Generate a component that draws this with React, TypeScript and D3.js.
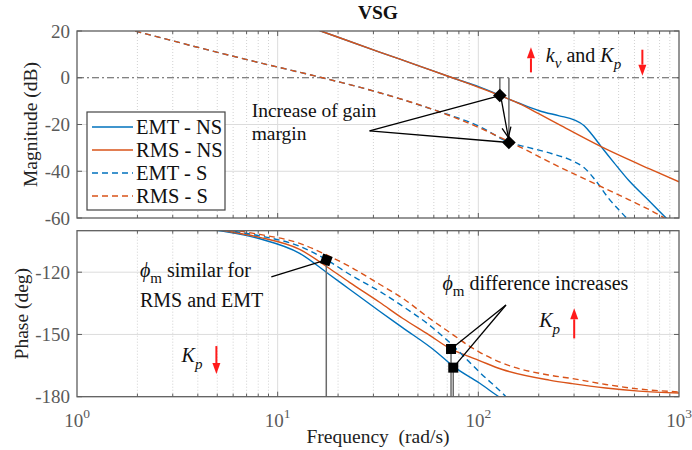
import React from 'react';
import * as d3 from 'd3';

// ---------- layout ----------
const W = 692, H = 450;
const PL = 77, PR = 679;
const MAG_TOP = 31, MAG_BOT = 218;
const PH_TOP = 230.7, PH_BOT = 396.7;
const FONT = '"Liberation Serif", "Times New Roman", serif';
const BLUE = '#0072BD';
const ORANGE = '#D95319';

// ---------- data: magnitude (dB) ----------
const magFreqEmtNs = [10, 16.4, 20.35, 32.2, 50.9, 74.2, 101, 128, 160, 201, 253, 300, 337, 369, 409, 475, 564, 709, 871, 1000];
const magEmtNs = [27, 20, 17.1, 11.0, 5.0, 0, -3.9, -7.5, -10.9, -14.1, -16.3, -18.0, -20.5, -24.4, -29.4, -36.4, -44.1, -52.6, -60.3, -64.6];

const magFreqRmsNs = [10, 16.4, 20.35, 32.2, 50.9, 74.2, 101, 128, 160, 201, 253, 409, 709, 1000];
const magRmsNs = [27, 20, 17.1, 11.0, 5.0, 0, -4.2, -7.6, -11.1, -15.5, -20.1, -29.5, -38.9, -44.5];

const magFreqEmtS = [1, 1.94, 4.09, 8.14, 16.7, 32.2, 61.8, 101.2, 143, 179, 233, 294, 337, 378, 448, 551, 600];
const magEmtS = [26, 20, 12.8, 6.4, 0, -6.4, -14.1, -20.8, -27.7, -29.9, -32.5, -35.5, -38.5, -43.2, -51.8, -60.3, -64];

const magFreqRmsS = [1, 1.94, 4.09, 8.14, 16.7, 32.2, 61.8, 101.2, 146, 253, 400, 564, 842, 1000];
const magRmsS = [26, 20, 12.8, 6.4, 0, -6.4, -14.1, -21.4, -27.8, -38.1, -46.2, -52.2, -59.9, -64];

// ---------- data: phase (deg) ----------
const phFreqEmtNs = [3.25, 5.27, 8.14, 12.87, 17.74, 22.8, 32.2, 41.9, 61.6, 74.2, 101.2, 122.9, 142.6];
const phEmtNs = [-97.4, -100.2, -103.9, -110.9, -120.5, -128.2, -138.8, -146.7, -158.3, -165.0, -173.4, -179.2, -183.5];

const phFreqRmsNs = [3.445, 5.58, 8.14, 12.87, 17.74, 22.8, 32.2, 41.9, 57.0, 71.7, 90.2, 101.2, 131.7, 225.5, 293.6, 431.9, 632.4, 1000];
const phRmsNs = [-97.4, -100.2, -103.2, -109.0, -117.6, -124.9, -134.5, -142.2, -150.3, -156.6, -160.7, -162.6, -166.9, -172.0, -173.7, -175.8, -177.3, -178.2];

const phFreqEmtS = [3.865, 5.97, 8.14, 12.87, 17.74, 22.8, 32.2, 40.5, 57.0, 74.2, 90.2, 101.2, 137.3, 150];
const phEmtS = [-97.4, -100.2, -102.5, -107.5, -114.3, -121.0, -129.2, -135.4, -145.5, -155.1, -163.3, -168.1, -180, -184];

const phFreqRmsS = [4.09, 6.47, 8.14, 12.87, 17.74, 22.8, 32.2, 41.9, 57.0, 74.2, 90.2, 101.2, 131.7, 225.5, 293.6, 431.9, 632.4, 1000];
const phRmsS = [-97.4, -100.2, -101.8, -106.1, -111.9, -117.2, -125.8, -132.5, -142.2, -149.9, -155.6, -158.5, -163.8, -169.6, -171.25, -174.1, -176.3, -177.7];

// ---------- margin markers ----------
const gmMarkerFreq = [128, 142];
const gmMarkerDb = [-7.6, -27.7];
const pmMarkerFreq = [17.47, 73.1, 75];
const pmMarkerDeg = [-114.1, -157.0, -166.0];

// ---------- ticks & labels ----------
const xTickValues = [1, 10, 100, 1000];
const xTickExp = ['0', '1', '2', '3'];
const magTicks = [20, 0, -20, -40, -60];
const phaseTicks = [-120, -150, -180];
const legendLabels = ['EMT - NS', 'RMS - NS', 'EMT - S', 'RMS - S'];
const legendColors = [BLUE, ORANGE, BLUE, ORANGE];
const legendDashed = [false, false, true, true];

type Pt = [number, number];
const zip = (a: number[], b: number[]): Pt[] => a.map((v, i) => [v, b[i]] as Pt);

export default function App() {
  const x = d3.scaleLog().domain([1, 1000]).range([PL, PR]);
  const yM = d3.scaleLinear().domain([-60, 20]).range([MAG_BOT, MAG_TOP]);
  const yP = d3.scaleLinear().domain([-180, -100]).range([PH_BOT, PH_TOP]);

  const lineM = d3.line<Pt>().x(d => x(d[0])).y(d => yM(d[1])).curve(d3.curveMonotoneX);
  const lineP = d3.line<Pt>().x(d => x(d[0])).y(d => yP(d[1])).curve(d3.curveMonotoneX);

  const minorX: number[] = [];
  [1, 10, 100].forEach(dec => { for (let k = 2; k <= 9; k++) minorX.push(dec * k); });

  const magSeries = [
    { d: zip(magFreqEmtNs, magEmtNs), c: BLUE, dash: false },
    { d: zip(magFreqRmsNs, magRmsNs), c: ORANGE, dash: false },
    { d: zip(magFreqEmtS, magEmtS), c: BLUE, dash: true },
    { d: zip(magFreqRmsS, magRmsS), c: ORANGE, dash: true },
  ];
  const phSeries = [
    { d: zip(phFreqEmtNs, phEmtNs), c: BLUE, dash: false },
    { d: zip(phFreqRmsNs, phRmsNs), c: ORANGE, dash: false },
    { d: zip(phFreqEmtS, phEmtS), c: BLUE, dash: true },
    { d: zip(phFreqRmsS, phRmsS), c: ORANGE, dash: true },
  ];

  const grid = (top: number, bot: number, y: (v: number) => number, gridYs: number[], key: string) => (
    <g key={key}>
      {minorX.map(f => (
        <line key={'mg' + f} x1={x(f)} x2={x(f)} y1={top} y2={bot} stroke="#c6c6c6" strokeWidth={0.8} strokeDasharray="1,2" />
      ))}
      {[10, 100].map(f => (
        <line key={'Mg' + f} x1={x(f)} x2={x(f)} y1={top} y2={bot} stroke="#dcdcdc" strokeWidth={1} />
      ))}
      {gridYs.map(v => (
        <line key={'gy' + v} x1={PL} x2={PR} y1={y(v)} y2={y(v)} stroke="#dcdcdc" strokeWidth={1} />
      ))}
    </g>
  );

  const axesBox = (top: number, bot: number, yTicks: number[], y: (v: number) => number, key: string) => (
    <g key={key}>
      {minorX.map(f => (
        <g key={'mt' + f}>
          <line x1={x(f)} x2={x(f)} y1={bot} y2={bot - 3} stroke="#5e5e5e" strokeWidth={1} />
          <line x1={x(f)} x2={x(f)} y1={top} y2={top + 3} stroke="#5e5e5e" strokeWidth={1} />
        </g>
      ))}
      {[10, 100].map(f => (
        <g key={'Mt' + f}>
          <line x1={x(f)} x2={x(f)} y1={bot} y2={bot - 5} stroke="#5e5e5e" strokeWidth={1} />
          <line x1={x(f)} x2={x(f)} y1={top} y2={top + 5} stroke="#5e5e5e" strokeWidth={1} />
        </g>
      ))}
      {yTicks.map(v => (
        <g key={'yt' + v}>
          <line x1={PL} x2={PL + 5} y1={y(v)} y2={y(v)} stroke="#5e5e5e" strokeWidth={1} />
          <line x1={PR} x2={PR - 5} y1={y(v)} y2={y(v)} stroke="#5e5e5e" strokeWidth={1} />
          <text x={PL - 7} y={y(v)} dy="0.35em" textAnchor="end" fontSize={19} fill="#5a5a5a" fontFamily={FONT}>{String(v)}</text>
        </g>
      ))}
      <rect x={PL} y={top} width={PR - PL} height={bot - top} fill="none" stroke="#5e5e5e" strokeWidth={1.3} />
    </g>
  );

  const redArrow = (px: number, y1: number, y2: number, key: string) => {
    const dir = y2 < y1 ? -1 : 1;
    const head = 11;
    return (
      <g key={key}>
        <line x1={px} x2={px} y1={y1} y2={y2 - dir * head} stroke="#ff1a1a" strokeWidth={2} />
        <path d={`M${px},${y2} L${px - 4},${y2 - dir * head} L${px + 4},${y2 - dir * head} Z`} fill="#ff1a1a" />
      </g>
    );
  };

  const diamond = (cx: number, cy: number, key: string) => (
    <rect key={key} x={cx - 4.8} y={cy - 4.8} width={9.6} height={9.6} fill="#000" transform={`rotate(45 ${cx} ${cy})`} />
  );
  const square = (cx: number, cy: number, key: string, rot = 0) => (
    <rect key={key} x={cx - 5} y={cy - 5} width={10} height={10} fill="#000" transform={`rotate(${rot} ${cx} ${cy})`} />
  );

  const a1x = x(130.2), a1y = yM(-9.4), a2x = x(141.1), a2y = yM(-25.5);
  const ang = Math.atan2(a2y - a1y, a2x - a1x);
  const hl = 11, ha = 0.42;
  const h1 = [a2x - hl * Math.cos(ang - ha), a2y - hl * Math.sin(ang - ha)];
  const h2 = [a2x - hl * Math.cos(ang + ha), a2y - hl * Math.sin(ang + ha)];

  const gmAnchor: Pt = [28.7, -22.7];
  const pmAnchor1: Pt = [9.3, -122.2];
  const pmAnchor2: Pt = [137.3, -135.8];

  const AF = 20; // annotation font size

  return (
    <svg width={W} height={H} viewBox={`0 0 ${W} ${H}`} style={{ position: 'absolute', left: 0, top: 0, background: '#fff' }} fontFamily={FONT}>
      <defs>
        <clipPath id="clipMag"><rect x={PL} y={MAG_TOP} width={PR - PL} height={MAG_BOT - MAG_TOP} /></clipPath>
        <clipPath id="clipPh"><rect x={PL} y={PH_TOP} width={PR - PL} height={PH_BOT - PH_TOP} /></clipPath>
      </defs>
      <rect x={0} y={0} width={W} height={H} fill="#fff" />

      <text x={(PL + PR) / 2} y={18.5} textAnchor="middle" fontWeight="bold" fontSize={19.5} fill="#111">VSG</text>

      {/* ===== magnitude panel ===== */}
      {grid(MAG_TOP, MAG_BOT, yM, [-20, -40], 'gm')}
      <line x1={PL} x2={PR} y1={yM(0)} y2={yM(0)} stroke="#5a5a5a" strokeWidth={1.1} strokeDasharray="7,3,2,3" />
      <g clipPath="url(#clipMag)">
        {magSeries.map((s, i) => (
          <path key={'m' + i} d={lineM(s.d) || ''} fill="none" stroke={s.c} strokeWidth={1.4} strokeDasharray={s.dash ? '6,4' : undefined} />
        ))}
      </g>
      {gmMarkerFreq.map((f, i) => (
        <line key={'gml' + i} x1={x(f)} x2={x(f)} y1={yM(0)} y2={yM(gmMarkerDb[i])} stroke="#6a6a6a" strokeWidth={1.5} />
      ))}
      {gmMarkerFreq.map((f, i) => (
        <line key={'gma' + i} x1={x(gmAnchor[0])} y1={yM(gmAnchor[1])} x2={x(f)} y2={yM(gmMarkerDb[i])} stroke="#000" strokeWidth={1.3} />
      ))}
      <line x1={a1x} y1={a1y} x2={a2x} y2={a2y} stroke="#000" strokeWidth={1.3} />
      <polyline points={`${h1[0]},${h1[1]} ${a2x},${a2y} ${h2[0]},${h2[1]}`} fill="none" stroke="#000" strokeWidth={1.3} />
      {gmMarkerFreq.map((f, i) => diamond(x(f), yM(gmMarkerDb[i]), 'gmm' + i))}

      <text x={x(7.42)} y={yM(-16.8)} fontSize={19.5} fill="#111">Increase of gain</text>
      <text x={x(7.42)} y={yM(-26.5)} fontSize={19.5} fill="#111">margin</text>

      <text x={x(217)} y={yM(6.6)} fontSize={AF} fill="#111" style={{ whiteSpace: 'pre' }}>
        <tspan fontStyle="italic">k</tspan>
        <tspan fontStyle="italic" fontSize={15} dy={6}>v</tspan>
        <tspan dy={-6}> and </tspan>
        <tspan fontStyle="italic">K</tspan>
        <tspan fontStyle="italic" fontSize={15} dy={7}>p</tspan>
      </text>
      {redArrow(x(182.9), yM(2.3), yM(13.0), 'ra1')}
      {redArrow(x(656.8), yM(12.0), yM(0.9), 'ra2')}

      {axesBox(MAG_TOP, MAG_BOT, magTicks, yM, 'am')}

      {/* legend */}
      <g>
        <rect x={87} y={112} width={138} height={98} fill="#fff" stroke="#444" strokeWidth={1.2} />
        {legendLabels.map((lab, i) => (
          <g key={'lg' + i}>
            <line x1={92} x2={133} y1={127 + i * 23} y2={127 + i * 23} stroke={legendColors[i]} strokeWidth={1.3} strokeDasharray={legendDashed[i] ? '6,4' : undefined} />
            <text x={136} y={127 + i * 23} dy="0.35em" fontSize={20.5} fill="#111">{lab}</text>
          </g>
        ))}
      </g>

      <text transform={`translate(30.5,${(MAG_TOP + MAG_BOT) / 2}) rotate(-90)`} textAnchor="middle" dy="0.35em" fontSize={19.5} fill="#222">Magnitude (dB)</text>

      {/* ===== phase panel ===== */}
      {grid(PH_TOP, PH_BOT, yP, [-120, -150], 'gp')}
      <g clipPath="url(#clipPh)">
        {phSeries.map((s, i) => (
          <path key={'p' + i} d={lineP(s.d) || ''} fill="none" stroke={s.c} strokeWidth={1.4} strokeDasharray={s.dash ? '6,4' : undefined} />
        ))}
      </g>
      {pmMarkerFreq.map((f, i) => (
        <line key={'pml' + i} x1={x(f)} x2={x(f)} y1={yP(pmMarkerDeg[i])} y2={yP(-180)} stroke="#6a6a6a" strokeWidth={1.5} />
      ))}
      <line x1={x(pmAnchor1[0])} y1={yP(pmAnchor1[1])} x2={x(pmMarkerFreq[0])} y2={yP(pmMarkerDeg[0])} stroke="#000" strokeWidth={1.3} />
      <line x1={x(pmAnchor2[0])} y1={yP(pmAnchor2[1])} x2={x(pmMarkerFreq[1])} y2={yP(pmMarkerDeg[1])} stroke="#000" strokeWidth={1.3} />
      <line x1={x(pmAnchor2[0])} y1={yP(pmAnchor2[1])} x2={x(pmMarkerFreq[2])} y2={yP(pmMarkerDeg[2])} stroke="#000" strokeWidth={1.3} />
      {square(x(pmMarkerFreq[0]), yP(pmMarkerDeg[0]), 'pm0', 20)}
      {square(x(pmMarkerFreq[1]), yP(pmMarkerDeg[1]), 'pm1')}
      {square(x(pmMarkerFreq[2]), yP(pmMarkerDeg[2]), 'pm2')}

      <text x={x(2.06)} y={yP(-122.2)} fontSize={AF} fill="#111" style={{ whiteSpace: 'pre' }}>
        <tspan fontStyle="italic">ϕ</tspan>
        <tspan fontSize={15} dy={6}>m</tspan>
        <tspan dy={-6}> similar for</tspan>
      </text>
      <text x={x(2.06)} y={yP(-136.9)} fontSize={AF} fill="#111">RMS and EMT</text>

      <text x={x(66.2)} y={yP(-128.6)} fontSize={AF} fill="#111" style={{ whiteSpace: 'pre' }}>
        <tspan fontStyle="italic">ϕ</tspan>
        <tspan fontSize={15} dy={6}>m</tspan>
        <tspan dy={-6}> difference increases</tspan>
      </text>

      <text x={x(201)} y={yP(-146.3)} fontSize={AF} fill="#111">
        <tspan fontStyle="italic">K</tspan>
        <tspan fontStyle="italic" fontSize={15} dy={7}>p</tspan>
      </text>
      {redArrow(x(300.4), yP(-151.9), yP(-137.4), 'ra3')}

      <text x={x(3.32)} y={yP(-163.1)} fontSize={AF} fill="#111">
        <tspan fontStyle="italic">K</tspan>
        <tspan fontStyle="italic" fontSize={15} dy={7}>p</tspan>
      </text>
      {redArrow(x(4.95), yP(-155.6), yP(-169.1), 'ra4')}

      {axesBox(PH_TOP, PH_BOT, phaseTicks, yP, 'ap')}

      <text transform={`translate(21.5,${(PH_TOP + PH_BOT) / 2}) rotate(-90)`} textAnchor="middle" dy="0.35em" fontSize={19.5} fill="#222">Phase (deg)</text>

      {xTickValues.map((v, i) => (
        <text key={'xl' + i} x={x(v)} y={427} textAnchor="middle" fontSize={19} fill="#5a5a5a">
          <tspan>10</tspan>
          <tspan fontSize={13.5} dy={-9}>{xTickExp[i]}</tspan>
        </text>
      ))}
      <text x={(PL + PR) / 2} y={443} textAnchor="middle" fontSize={19.5} fill="#222" style={{ whiteSpace: 'pre' }}>Frequency  (rad/s)</text>
    </svg>
  );
}
